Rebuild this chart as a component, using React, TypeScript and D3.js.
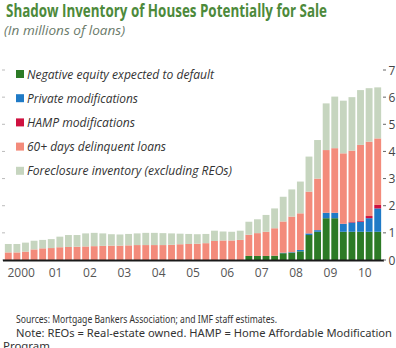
import React from "react";
import * as d3 from "d3";

const years = ["2000", "01", "02", "03", "04", "05", "06", "07", "08", "09", "10"];
const yTicks = [0, 1, 2, 3, 4, 5, 6, 7];

// quarterly, 2000Q1 .. 2010Q4 (millions of loans)
const negativeEquity = [
  0, 0, 0, 0, 0, 0, 0, 0, 0, 0, 0, 0, 0, 0, 0, 0, 0, 0, 0, 0, 0, 0, 0, 0, 0, 0, 0, 0,
  0.15, 0.15, 0.15, 0.16, 0.25, 0.27, 0.32, 0.92, 1.04, 1.54, 1.54, 1.04, 1.04, 1.04, 1.04, 1.04,
];
const privateMods = [
  0, 0, 0, 0, 0, 0, 0, 0, 0, 0, 0, 0, 0, 0, 0, 0, 0, 0, 0, 0, 0, 0, 0, 0, 0, 0, 0, 0,
  0, 0, 0, 0, 0.02, 0.02, 0.05, 0.06, 0.06, 0.2, 0.2, 0.29, 0.34, 0.37, 0.5, 0.86,
];
const hampMods = [
  0, 0, 0, 0, 0, 0, 0, 0, 0, 0, 0, 0, 0, 0, 0, 0, 0, 0, 0, 0, 0, 0, 0, 0, 0, 0, 0, 0,
  0, 0, 0, 0, 0, 0, 0, 0, 0, 0, 0, 0.01, 0.02, 0.03, 0.08, 0.13,
];
const delinquent60 = [
  0.28, 0.28, 0.31, 0.39, 0.43, 0.44, 0.47, 0.48, 0.49, 0.5, 0.51, 0.52,
  0.53, 0.53, 0.54, 0.55, 0.55, 0.55, 0.55, 0.56, 0.58, 0.59, 0.6, 0.62,
  0.7, 0.72, 0.72, 0.74, 0.78, 0.84, 0.89, 1.01, 1.15, 1.31, 1.35, 1.54,
  1.9, 2.31, 2.38, 2.59, 2.63, 2.8, 2.74, 2.45,
];
const foreclosure = [
  0.31, 0.31, 0.33, 0.32, 0.31, 0.33, 0.39, 0.44, 0.43, 0.48, 0.49, 0.46,
  0.42, 0.41, 0.42, 0.43, 0.45, 0.45, 0.44, 0.42, 0.39, 0.37, 0.35, 0.34,
  0.38, 0.33, 0.32, 0.34, 0.48, 0.51, 0.62, 0.73, 0.91, 1.0, 1.17, 1.29,
  1.42, 1.72, 1.9, 1.94, 1.97, 2.02, 1.97, 1.88,
];

const seriesKeys = ["neg", "priv", "hamp", "delinq", "fore"];
const seriesNames = [
  "Negative equity expected to default",
  "Private modifications",
  "HAMP modifications",
  "60+ days delinquent loans",
  "Foreclosure inventory (excluding REOs)",
];
const seriesColors = ["#2c7a26", "#1f7ac6", "#cf1140", "#f38b7b", "#c6d5bf"];
const legendLengths = [187, 111, 108, 139, 205];

export default function App() {
  const W = 396;
  const H = 348;
  const rows = negativeEquity.map((_, i) => ({
    i,
    neg: negativeEquity[i],
    priv: privateMods[i],
    hamp: hampMods[i],
    delinq: delinquent60[i],
    fore: foreclosure[i],
  }));
  const stacked = d3.stack<any>().keys(seriesKeys)(rows);
  const x = d3
    .scaleBand<number>()
    .domain(rows.map((r) => r.i))
    .range([4, 382])
    .paddingInner(0.2)
    .paddingOuter(0.1);
  const y = d3.scaleLinear().domain([0, 7]).range([260, 70]);
  const step = x.step();
  const yearCenter = (k: number) => (x(k * 4) as number) + (step * 4 - step * 0.2) / 2;
  const foot = "'Noto Sans', 'Open Sans', sans-serif";

  return (
    <svg
      width={W}
      height={H}
      style={{ position: "absolute", left: 0, top: 0, background: "#fff" }}
    >
      <text
        x={6}
        y={17}
        fontFamily="'Liberation Sans Narrow', 'Open Sans', sans-serif"
        fontWeight="bold"
        fontSize={17}
        fill="#4d8a3b"
        textLength={321}
        lengthAdjust="spacingAndGlyphs"
      >
        Shadow Inventory of Houses Potentially for  Sale
      </text>
      <text
        x={4}
        y={35}
        fontFamily="'Open Sans', sans-serif"
        fontStyle="italic"
        fontSize={12.5}
        fill="#6a7a6a"
        textLength={121}
        lengthAdjust="spacingAndGlyphs"
      >
        (In millions of loans)
      </text>

      {/* left faint ticks */}
      {yTicks.map((t) => (
        <line key={"lt" + t} x1={2} x2={5} y1={y(t)} y2={y(t)} stroke="#bbb" strokeWidth={1} />
      ))}

      {/* bars */}
      {stacked.map((s, si) => (
        <g key={s.key} fill={seriesColors[si]}>
          {s.map((d, i) => {
            const h = y(d[0]) - y(d[1]);
            if (h <= 0) return null;
            return (
              <rect
                key={i}
                x={x(i)}
                y={y(d[1])}
                width={x.bandwidth()}
                height={h}
              />
            );
          })}
        </g>
      ))}

      {/* baseline */}
      <line x1={3} x2={384} y1={260.5} y2={260.5} stroke="#1a1a1a" strokeWidth={2} />

      {/* right axis */}
      {yTicks.map((t) => (
        <g key={"rt" + t}>
          <line x1={383} x2={386} y1={y(t)} y2={y(t)} stroke="#666" strokeWidth={1} />
          <text
            x={388.5}
            y={y(t) + 4.5}
            fontFamily="'Open Sans', sans-serif"
            fontSize={12}
            fill="#444"
          >
            {t}
          </text>
        </g>
      ))}

      {/* x labels */}
      {years.map((yl, k) => (
        <text
          key={yl}
          x={yearCenter(k)}
          y={277}
          textAnchor="middle"
          fontFamily="'Open Sans', sans-serif"
          fontSize={12}
          fill="#555"
        >
          {yl}
        </text>
      ))}

      {/* legend */}
      {seriesNames.map((n, k) => {
        const cy = 74 + 24.2 * k;
        return (
          <g key={n}>
            <rect x={16} y={cy - 4} width={8} height={8} fill={seriesColors[k]} />
            <text
              x={27}
              y={cy + 4.5}
              fontFamily="'Open Sans', sans-serif"
              fontStyle="italic"
              fontSize={12.5}
              fill="#333"
              textLength={legendLengths[k]}
              lengthAdjust="spacingAndGlyphs"
            >
              {n}
            </text>
          </g>
        );
      })}

      {/* footer */}
      <text
        x={16}
        y={323}
        fontFamily={foot}
        fontSize={11.5}
        fill="#333"
        textLength={261}
        lengthAdjust="spacingAndGlyphs"
      >
        Sources: Mortgage Bankers Association; and IMF staff estimates.
      </text>
      <text
        x={16}
        y={336.5}
        fontFamily={foot}
        fontSize={11.5}
        fill="#333"
        textLength={376}
        lengthAdjust="spacingAndGlyphs"
      >
        Note: REOs = Real-estate owned. HAMP = Home Affordable Modification
      </text>
      <text
        x={3}
        y={350}
        fontFamily={foot}
        fontSize={11.5}
        fill="#333"
        textLength={50}
        lengthAdjust="spacingAndGlyphs"
      >
        Program.
      </text>
    </svg>
  );
}
